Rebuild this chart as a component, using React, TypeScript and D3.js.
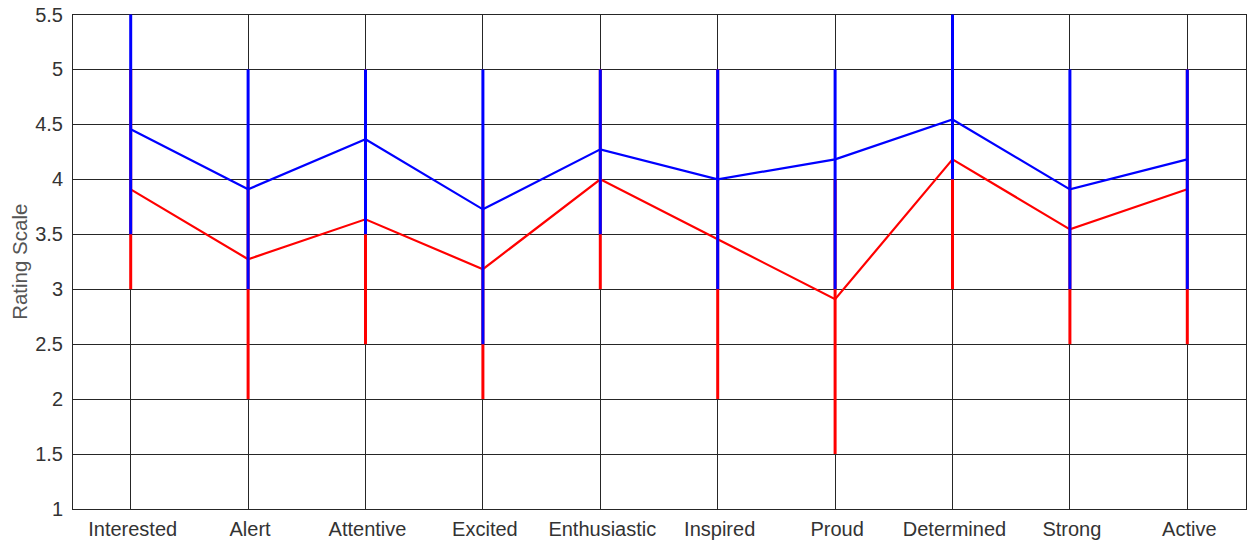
import React from "react";
import * as d3 from "d3";

const categories = [
  "Interested", "Alert", "Attentive", "Excited", "Enthusiastic",
  "Inspired", "Proud", "Determined", "Strong", "Active",
];

// Group means (blue and red)
const blueMean = [4.455, 3.909, 4.364, 3.727, 4.273, 4.0, 4.182, 4.545, 3.909, 4.182];
const redMean = [3.909, 3.273, 3.636, 3.182, 4.0, 3.455, 2.909, 4.182, 3.545, 3.909];

// Ranges (min / max) per category
const blueMin = [3.5, 3, 3.5, 2.5, 3.5, 3, 3, 4, 3, 3];
const blueMax = [5.5, 5, 5, 5, 5, 5, 5, 5.5, 5, 5];
const redMin = [3, 2, 2.5, 2, 3, 2, 1.5, 3, 2.5, 2.5];
const redMax = [5, 4, 5, 4, 5, 5, 4, 5, 4, 5];

const yTicks = [1, 1.5, 2, 2.5, 3, 3.5, 4, 4.5, 5, 5.5];

const W = 1251;
const H = 544;
const left = 72;
const right = 1246;
const top = 14.5;
const bottom = 509;

export default function App() {
  const x = d3.scalePoint<string>().domain(categories).range([left, right]).padding(0.5);
  const y = d3.scaleLinear().domain([1, 5.5]).range([bottom, top]);

  const line = d3
    .line<number>()
    .x((_, i) => x(categories[i]) as number)
    .y((d) => y(d));

  const font = "'Liberation Sans', Arial, Helvetica, sans-serif";

  return (
    <svg
      width={W}
      height={H}
      style={{ position: "absolute", left: 0, top: 0, display: "block", background: "#fff" }}
    >
      {/* grid */}
      <g stroke="#262626" strokeWidth={1} shapeRendering="crispEdges">
        {yTicks.map((t) => (
          <line key={"h" + t} x1={left} x2={right} y1={y(t)} y2={y(t)} />
        ))}
        {categories.map((c) => (
          <line key={"v" + c} x1={x(c)} x2={x(c)} y1={top} y2={bottom} />
        ))}
        <rect x={left} y={top} width={right - left} height={bottom - top} fill="none" />
      </g>

      {/* red series */}
      <g stroke="#ff0000" strokeWidth={3}>
        {categories.map((c, i) => (
          <line key={"rb" + c} x1={x(c)} x2={x(c)} y1={y(redMin[i])} y2={y(redMax[i])} />
        ))}
      </g>
      <path d={line(redMean) ?? ""} fill="none" stroke="#ff0000" strokeWidth={2.2} />

      {/* blue series */}
      <g stroke="#0000ff" strokeWidth={3}>
        {categories.map((c, i) => (
          <line key={"bb" + c} x1={x(c)} x2={x(c)} y1={y(blueMin[i])} y2={y(blueMax[i])} />
        ))}
      </g>
      <path d={line(blueMean) ?? ""} fill="none" stroke="#0000ff" strokeWidth={2.2} />

      {/* y tick labels */}
      <g fontFamily={font} fontSize={20} fill="#333" textAnchor="end">
        {yTicks.map((t) => (
          <text key={"yt" + t} x={63} y={y(t)} dy="0.35em">
            {String(t)}
          </text>
        ))}
      </g>

      {/* x tick labels */}
      <g fontFamily={font} fontSize={20} fill="#333" textAnchor="middle">
        {categories.map((c) => (
          <text key={"xt" + c} x={(x(c) as number) + 2} y={536}>
            {c}
          </text>
        ))}
      </g>

      <text
        transform={`translate(27, ${(top + bottom) / 2}) rotate(-90)`}
        textAnchor="middle"
        fontFamily={font}
        fontSize={20.5}
        fill="#555"
      >
        Rating Scale
      </text>
    </svg>
  );
}
